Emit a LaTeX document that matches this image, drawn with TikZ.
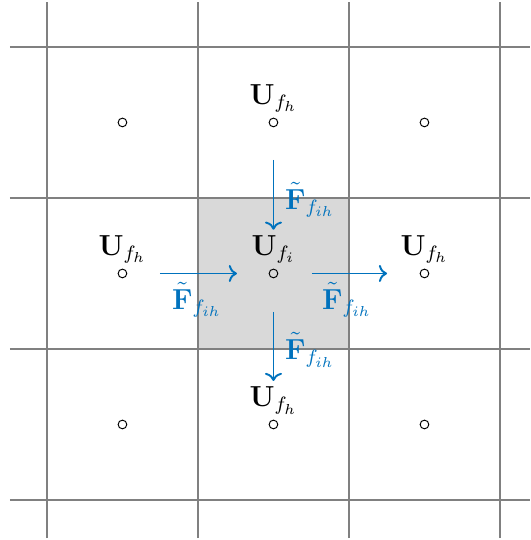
\documentclass[tikz,border=0pt]{standalone}
\usepackage{amsmath}
\usetikzlibrary{positioning,arrows.meta,calc}
\definecolor{fluxblue}{RGB}{0,114,189}

\begin{document}
\begin{tikzpicture}[x=2.2cm,y=2.2cm,font=\large,
  gridln/.style={draw=black!50,thick},
  cell/.style={fill=black!15},
  ctr/.style={circle,draw=black,thin,inner sep=0pt,minimum size=3.6pt},
  lbl/.style={inner sep=1pt},
  flux/.style={->,thick,fluxblue},
  fl/.style={text=fluxblue,inner sep=1pt}]
\useasboundingbox (-1.811,-1.765) rectangle (1.699,1.811);
\fill[cell] (-0.5,-0.5) rectangle (0.5,0.5);
\foreach \k in {-1.5,-0.5,0.5,1.5}{
  \draw[gridln] (\k,-1.752) -- (\k,1.798);
  \draw[gridln] (-1.745,\k) -- (1.699,\k);}
% cell centres
\foreach \i/\a in {-1/1,0/2,1/3}
  \foreach \j/\b in {-1/1,0/2,1/3}
    \node[ctr] (c\a\b) at (\i,\j) {};
\node[lbl,above=1pt of c23](ut){$\mathbf{U}_{f_h}$};
\node[lbl,above=1pt of c12](ul){$\mathbf{U}_{f_h}$};
\node[lbl,above=1pt of c22](uc){$\mathbf{U}_{f_i}$};
\node[lbl,above=1pt of c32](ur){$\mathbf{U}_{f_h}$};
\node[lbl,above=1pt of c21](ub){$\mathbf{U}_{f_h}$};
% fluxes through the faces
\coordinate (ta) at (0,0.752); \coordinate (tb) at (0,0.29);
\coordinate (la) at (-0.752,0); \coordinate (lb) at (-0.242,0);
\coordinate (ra) at (0.255,0); \coordinate (rb) at (0.752,0);
\coordinate (ba) at (0,-0.255); \coordinate (bb) at (0,-0.712);
\draw[flux](ta)--(tb);\draw[flux](la)--(lb);
\draw[flux](ra)--(rb);\draw[flux](ba)--(bb);
\node[fl](ft) at (0.242,0.487){$\tilde{\mathbf{F}}_{f_{ih}}$};
\node[fl](fl) at (-0.507,-0.175){$\tilde{\mathbf{F}}_{f_{ih}}$};
\node[fl](fr) at (0.487,-0.175){$\tilde{\mathbf{F}}_{f_{ih}}$};
\node[fl](fb) at (0.242,-0.507){$\tilde{\mathbf{F}}_{f_{ih}}$};
\end{tikzpicture}
\end{document}
